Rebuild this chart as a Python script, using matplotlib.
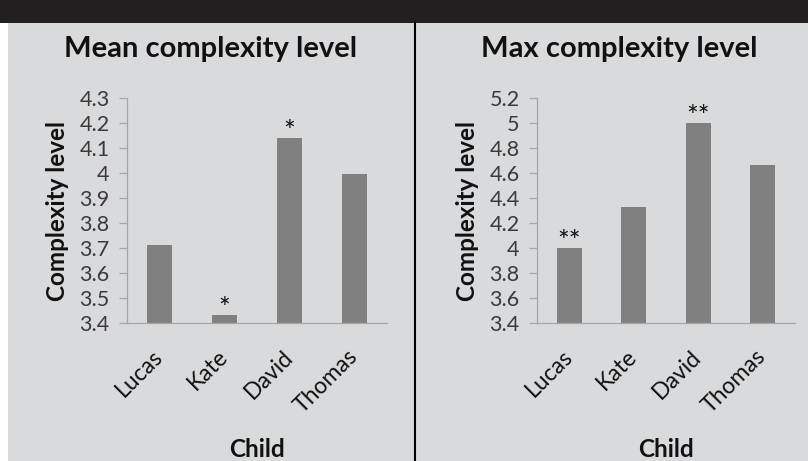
import matplotlib
matplotlib.use("Agg")
import matplotlib.pyplot as plt
from matplotlib.patches import Rectangle
from matplotlib.lines import Line2D

plt.rcParams['font.family'] = ['Lato', 'DejaVu Sans']

children = ['Lucas', 'Kate', 'David', 'Thomas']
mean_level = [3.71, 3.43, 4.14, 3.995]
max_level = [4.0, 4.33, 5.0, 4.665]
mean_marks = ['', '*', '*', '']
max_marks = ['**', '', '**', '']
mean_ticks = [3.4, 3.5, 3.6, 3.7, 3.8, 3.9, 4.0, 4.1, 4.2, 4.3]
mean_ticklabels = ['3.4', '3.5', '3.6', '3.7', '3.8', '3.9', '4', '4.1', '4.2', '4.3']
max_ticks = [3.4, 3.6, 3.8, 4.0, 4.2, 4.4, 4.6, 4.8, 5.0, 5.2]
max_ticklabels = ['3.4', '3.6', '3.8', '4', '4.2', '4.4', '4.6', '4.8', '5', '5.2']

W, H = 808, 461
BG = '#d9dadc'
BAR = '#808080'
AXIS = '#a6a6a6'
TEXT = '#111111'

fig = plt.figure(figsize=(W / 100, H / 100), dpi=100)
fig.patch.set_facecolor('white')

def fx(px):
    return px / W

def fy(py):
    return 1 - py / H

# panel background, header band and divider
fig.patches.append(Rectangle((fx(8), 0), 1 - fx(8), fy(23), transform=fig.transFigure,
                             facecolor=BG, edgecolor='none', zorder=-2))
fig.patches.append(Rectangle((0, fy(23)), 1, 1 - fy(23), transform=fig.transFigure,
                             facecolor='#231f20', edgecolor='none', zorder=-2))
fig.lines.append(Line2D([fx(415), fx(415)], [0, fy(23)], transform=fig.transFigure,
                        color='black', linewidth=1.5, zorder=-1))


def panel(x0, x1, values, marks, ticks, ticklabels, title, title_cx, ylab_cx):
    ax = fig.add_axes([fx(x0), fy(323), fx(x1) - fx(x0), fy(98) - fy(323)])
    ax.patch.set_visible(False)
    x = list(range(len(children)))
    ax.bar(x, values, width=0.38, color=BAR, zorder=2)
    ax.set_xlim(-0.5, len(children) - 0.5)
    ax.set_ylim(ticks[0], ticks[-1])
    ax.set_yticks(ticks)
    ax.set_yticklabels(ticklabels)
    ax.set_xticks(x)
    ax.set_xticklabels(children, rotation=45, ha='right', va='center',
                       rotation_mode='anchor')
    for s in ('top', 'right'):
        ax.spines[s].set_visible(False)
    for s in ('left', 'bottom'):
        ax.spines[s].set_color(AXIS)
        ax.spines[s].set_linewidth(0.9)
    ax.tick_params(axis='y', length=5.5, width=0.9, color=AXIS, pad=7,
                   labelsize=15.5, labelcolor='#3a3a3a')
    ax.tick_params(axis='x', length=0, pad=22, labelsize=16.5, labelcolor=TEXT)
    for xi, v, m in zip(x, values, marks):
        if m:
            ax.annotate(m, (xi, v), xytext=(0, -2), textcoords='offset points',
                        ha='center', va='baseline', fontsize=20, color=TEXT)
    fig.text(fx(title_cx), fy(57), title, ha='center', va='baseline',
             fontsize=21, fontweight='bold', color=TEXT)
    fig.text(fx(ylab_cx), fy(211), 'Complexity level', rotation=90,
             ha='center', va='center', fontsize=17.5, fontweight='bold', color=TEXT)
    fig.text((fx(x0) + fx(x1)) / 2, fy(457), 'Child', ha='center', va='baseline',
             fontsize=17.5, fontweight='bold', color=TEXT)
    return ax


panel(127, 387, mean_level, mean_marks, mean_ticks, mean_ticklabels,
      'Mean complexity level', 211, 58)
panel(537, 795, max_level, max_marks, max_ticks, max_ticklabels,
      'Max complexity level', 619, 468)

fig.savefig('out.png', dpi=100, facecolor=fig.get_facecolor())
